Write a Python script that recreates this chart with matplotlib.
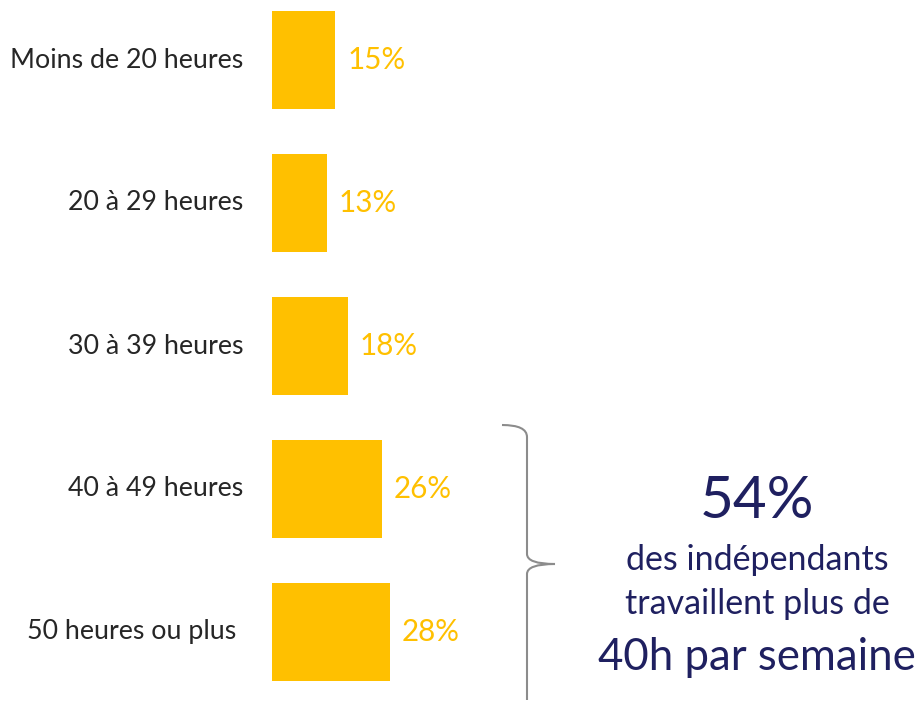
import matplotlib.pyplot as plt
from matplotlib.path import Path
from matplotlib.patches import PathPatch

# data
categories = ["Moins de 20 heures", "20 à 29 heures", "30 à 39 heures",
              "40 à 49 heures", "50 heures ou plus "]
values = [15, 13, 18, 26, 28]
value_labels = ["15%", "13%", "18%", "26%", "28%"]
summary_pct = "54%"
summary_lines = ["des indépendants", "travaillent plus de", "40h par semaine"]

YELLOW = "#FFC000"
NAVY = "#1F2060"
GREY = "#8C8C8C"

plt.rcParams['font.family'] = ['Lato', 'DejaVu Sans']

W, H = 922, 701
fig = plt.figure(figsize=(W / 100, H / 100), dpi=100)
ax = fig.add_axes([0, 0, 1, 1])

# scale: px per percent, px per category row
sx = 4.214
sy = 143.0
x0, y0 = 272, 60
ax.set_xlim(-x0 / sx, (W - x0) / sx)
ax.set_ylim((H - y0) / sy, -y0 / sy)
ax.axis('off')

pos = list(range(len(categories)))
ax.barh(pos, values, height=0.685, color=YELLOW)

for i in pos:
    ax.text(-29 / sx, i, categories[i], ha='right', va='center',
            fontsize=19.3, color='#262626')
    ax.text(values[i] + 12 / sx, i, value_labels[i], ha='left', va='center',
            fontsize=21.3, color=YELLOW)

# curly brace next to the last two bars
bx = (527 - x0) / sx
top = (425 - y0) / sy
tip = (564 - y0) / sy
bot = (700 - y0) / sy
dx = 1 / sx
dy = 1 / sy
verts = [
    (bx - 25 * dx, top),
    (bx, top), (bx, top + 12 * dy),
    (bx, tip - 10 * dy),
    (bx, tip), (bx + 28 * dx, tip),
    (bx, tip), (bx, tip + 10 * dy),
    (bx, bot),
]
codes = [Path.MOVETO,
         Path.CURVE3, Path.CURVE3,
         Path.LINETO,
         Path.CURVE3, Path.CURVE3,
         Path.CURVE3, Path.CURVE3,
         Path.LINETO]
ax.add_patch(PathPatch(Path(verts, codes), fill=False, edgecolor=GREY, lw=1.5))

tx = (757 - x0) / sx
ax.text(tx, (518 - y0) / sy, summary_pct, ha='center', va='baseline',
        fontsize=42, color=NAVY)
ax.text(tx, (570 - y0) / sy, summary_lines[0], ha='center', va='baseline',
        fontsize=24.5, color=NAVY)
ax.text(tx, (614 - y0) / sy, summary_lines[1], ha='center', va='baseline',
        fontsize=24.5, color=NAVY)
ax.text(tx, (670 - y0) / sy, summary_lines[2], ha='center', va='baseline',
        fontsize=31.5, color=NAVY)

fig.savefig('out.png', dpi=100)
